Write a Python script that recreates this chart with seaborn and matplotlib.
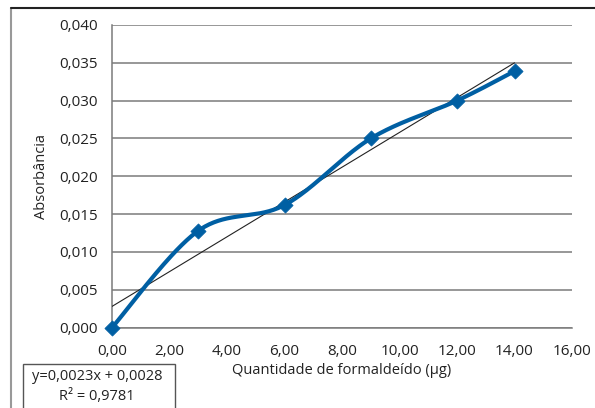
import numpy as np
import pandas as pd
import matplotlib
matplotlib.use("Agg")
import matplotlib.pyplot as plt
import seaborn as sns
from matplotlib.patches import Rectangle

# ---- data ----
quantidade = [0.0, 3.0, 6.0, 9.0, 12.0, 14.0]
absorbancia = [0.0000, 0.0128, 0.0162, 0.0250, 0.0300, 0.0339]
slope = 0.0023
intercept = 0.0028
r2 = 0.9781
x_ticks = [0, 2, 4, 6, 8, 10, 12, 14, 16]
y_ticks = [0.000, 0.005, 0.010, 0.015, 0.020, 0.025, 0.030, 0.035, 0.040]

sns.set_style("white")
plt.rcParams['font.family'] = ['Open Sans', 'DejaVu Sans']

fig = plt.figure(figsize=(5.95, 4.08), dpi=100)
ax = fig.add_axes([112/595, 1-327.6/408, (572-112)/595, (327.6-25)/408])

def excel_smooth(xs, ys, n=40):
    P = np.column_stack([xs, ys]).astype(float)
    Pext = np.vstack([P[0], P, P[-1]])
    out = []
    for i in range(len(P) - 1):
        p0, p1, p2, p3 = Pext[i], Pext[i+1], Pext[i+2], Pext[i+3]
        c1 = p1 + (p2 - p0) / 6.0
        c2 = p2 - (p3 - p1) / 6.0
        t = np.linspace(0, 1, n)[:, None]
        seg = ((1-t)**3)*p1 + 3*((1-t)**2)*t*c1 + 3*(1-t)*(t**2)*c2 + (t**3)*p2
        out.append(seg if i == 0 else seg[1:])
    return np.vstack(out)

curve = excel_smooth(quantidade, absorbancia)
blue = '#005fa3'

# trendline
xt = np.array([quantidade[0], quantidade[-1]])
trend = pd.DataFrame({'x': xt, 'y': slope * xt + intercept})
sns.lineplot(data=trend, x='x', y='y', ax=ax, color='#222222', lw=0.8, zorder=3)

cdf = pd.DataFrame({'x': curve[:, 0], 'y': curve[:, 1]})
sns.lineplot(data=cdf, x='x', y='y', ax=ax, sort=False, color=blue, lw=3.0, zorder=4,
             clip_on=False)
df = pd.DataFrame({'x': quantidade, 'y': absorbancia})
sns.scatterplot(data=df, x='x', y='y', ax=ax, marker='D', s=60, color=blue,
                edgecolor=blue, linewidth=0.5, zorder=5, clip_on=False)

ax.set_xlim(0, 16)
ax.set_ylim(0, 0.040)
ax.set_xticks(x_ticks)
ax.set_xticklabels([f"{v:.2f}".replace('.', ',') for v in x_ticks])
ax.set_yticks(y_ticks)
ax.set_yticklabels([f"{v:.3f}".replace('.', ',') for v in y_ticks])
ax.yaxis.grid(True, color='#7a7a7a', lw=1.1)
ax.set_axisbelow(True)
for s in ['top', 'right']:
    ax.spines[s].set_visible(False)
for s in ['left', 'bottom']:
    ax.spines[s].set_color('#7a7a7a')
    ax.spines[s].set_linewidth(1.1)
ax.tick_params(axis='both', direction='out', length=4.5, width=1.0, color='#7a7a7a',
               labelsize=11, labelcolor='#222222')
ax.tick_params(axis='x', pad=7)
ax.tick_params(axis='y', pad=6)
ax.set_xlabel('Quantidade de formaldeído (µg)', fontsize=10.5, color='#222222', labelpad=3)
ax.set_ylabel('Absorbância', fontsize=10.5, color='#222222', labelpad=7)

# figure border (left & top visible)
fig.add_artist(plt.Line2D([11/595, 11/595], [0, 1-8/408], transform=fig.transFigure,
                          color='#999999', lw=1.5))
fig.add_artist(plt.Line2D([11/595, 1], [1-8/408, 1-8/408], transform=fig.transFigure,
                          color='#222222', lw=1.5))
# equation box
fig.add_artist(Rectangle((23/595, -0.05), (175-23)/595, 0.05 + (408-364)/408,
                         transform=fig.transFigure, fill=True, facecolor='white',
                         edgecolor='#555555', lw=1.0))
fig.text(97/595, 1-376.7/408, f"y={slope:.4f}x + {intercept:.4f}".replace('.', ','),
         ha='center', va='center', fontsize=10.5, color='#222222')
fig.text(97/595, 1-396.7/408, f"R² = {r2:.4f}".replace('.', ','),
         ha='center', va='center', fontsize=10.5, color='#222222')

fig.savefig('out.png', dpi=100)
